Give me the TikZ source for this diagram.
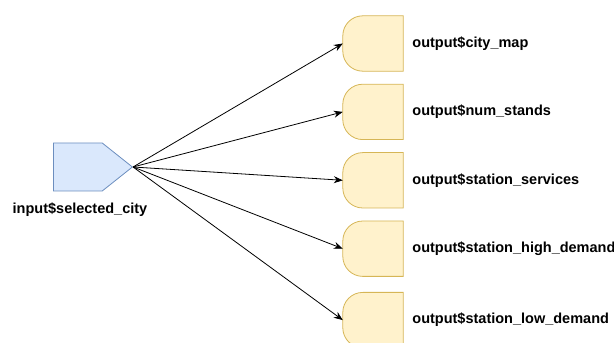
\documentclass[tikz,border=0pt]{standalone}
\usepackage{fontspec}
\setsansfont{Liberation Sans}
\usetikzlibrary{positioning,shapes.symbols,arrows.meta}
\definecolor{inblue}{HTML}{DAE8FC}
\definecolor{inblueline}{HTML}{6C8EBF}
\definecolor{outyellow}{HTML}{FFF2CC}
\definecolor{outyellowline}{HTML}{D6B656}
\tikzset{
 inbox/.style
  = {signal, signal to=east, signal pointer angle=77, draw=inblueline, fill=inblue,
     minimum width=79pt, minimum height=48pt, inner sep=0pt, line width=0.8pt},
 outbox/.style
  = {rectangle, minimum width=60pt, minimum height=55pt, inner sep=0pt},
 outline/.style
  = {draw=outyellowline, fill=outyellow, line width=0.8pt},
 varname/.style
  = {font=\sffamily\bfseries\fontsize{14.5}{16}\selectfont, inner sep=0pt},
 l/.style
  = {draw, -{Stealth[length=9pt,width=7pt]}, line width=0.8pt}
}

\begin{document}
\begin{tikzpicture}[x=1pt,y=1pt]
    \useasboundingbox (0,0) rectangle (614,343);
    \node [inbox, anchor=west] (input) at (53,176) {};
    \node [varname] (inname) at (80,133) {input\$selected\_city};
    \node [outbox] (map) at (373,299.5) {};
    \node [outbox, below = 13pt of map] (stands) {};
    \node [outbox, below = 13pt of stands] (services) {};
    \node [outbox, below = 13pt of services] (high) {};
    \node [outbox, below = 16pt of high] (low) {};

    % output boxes: flat on the right, rounded on the left
    \foreach \o in {map,stands,services,high,low}
      \path [outline] ([xshift=20pt]\o.north west) -- (\o.north east) -- (\o.south east)
        -- ([xshift=20pt]\o.south west) arc[start angle=270, end angle=180, radius=20pt]
        -- ([yshift=-20pt]\o.north west) arc[start angle=180, end angle=90, radius=20pt] -- cycle;

    \node [varname, right = 9pt of map] (mapname) {output\$city\_map};
    \node [varname, right = 9pt of stands] (standsname) {output\$num\_stands};
    \node [varname, right = 9pt of services] (servicesname) {output\$station\_services};
    \node [varname, right = 9pt of high] (highname) {output\$station\_high\_demand};
    \node [varname, right = 9pt of low] (lowname) {output\$station\_low\_demand};

    \foreach \o in {map,stands,services,high,low}
      \path [l] (input.east) -- (\o.west);
\end{tikzpicture}
\end{document}
